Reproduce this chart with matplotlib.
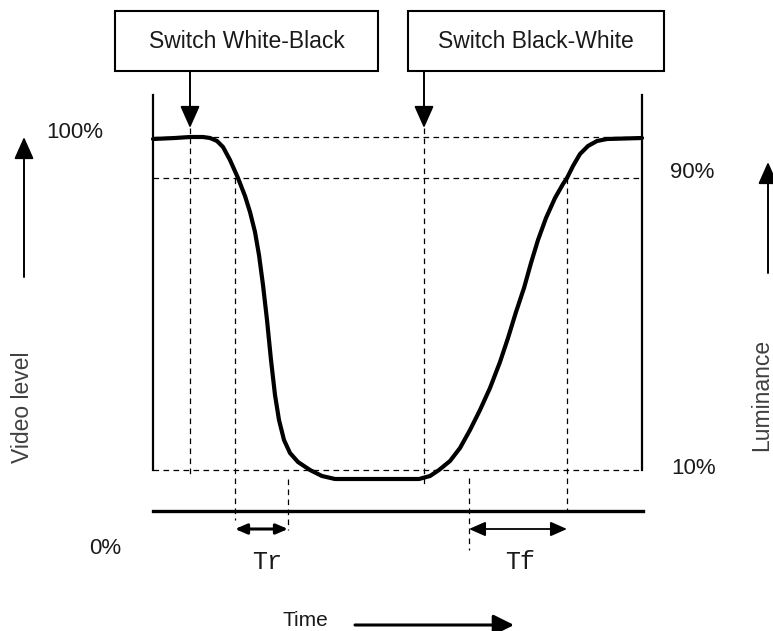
import matplotlib
matplotlib.use("Agg")
import matplotlib.pyplot as plt
from matplotlib.patches import Rectangle

# ---- data (diagram units: x = time, y = level position) ----
curve_x = [153, 175, 190, 203, 210, 217, 223, 230, 238, 245, 250, 255, 259, 263, 267,
           271, 275, 279, 284, 290, 298, 310, 322, 335,
           419, 430, 439, 450, 460, 470, 480, 490, 500, 508, 516, 524, 531, 538, 546,
           555, 563, 567, 573, 580, 588, 597, 607, 642]
curve_y = [139, 138, 137, 137, 138, 141, 147, 160, 178, 196, 212, 232, 255, 285, 320,
           360, 395, 420, 440, 453, 462, 470, 476, 479,
           479, 476, 470, 461, 448, 430, 410, 388, 362, 338, 312, 288, 263, 240, 218,
           198, 184, 178, 166, 154, 146, 141, 139, 138]

level_labels = ["100%", "90%", "10%", "0%"]
level_y = [137, 178, 470, 511]

switch_labels = ["Switch White-Black", "Switch Black-White"]
switch_x = [190, 424]
box_left = [115, 408]
box_right = [378, 664]

frame_left, frame_right, frame_top = 153, 642, 95
t90_fall, t10_fall = 235, 288     # Tr markers
t10_rise, t90_rise = 469, 567     # Tf markers

fig = plt.figure(figsize=(7.73, 6.31), dpi=100)
ax = fig.add_axes([0, 0, 1, 1])
ax.set_xlim(0, 773)
ax.set_ylim(631, 0)
ax.axis("off")

sans = "Liberation Sans"
mono = "Liberation Mono"
dash = dict(color="black", lw=0.9, dashes=(4.5, 3.5))

# boxes with labels
for lab, x0, x1 in zip(switch_labels, box_left, box_right):
    ax.add_patch(Rectangle((x0, 11), x1 - x0, 60, fill=False, lw=1.5, ec="black"))
    ax.text((x0 + x1) / 2, 42, lab, ha="center", va="center", fontsize=16.5,
            family=sans, color="#1a1a1a")

# arrows from boxes
arr = dict(arrowstyle="-|>,head_length=0.45,head_width=0.2", lw=1.4, color="black",
           shrinkA=0, shrinkB=0, mutation_scale=30)
for sx in switch_x:
    ax.annotate("", xy=(sx, 128), xytext=(sx, 71), arrowprops=arr)

# frame
ax.plot([frame_left, frame_left], [frame_top, level_y[2]], color="black", lw=1.6)
ax.plot([frame_right, frame_right], [frame_top, level_y[2]], color="black", lw=1.6)
ax.plot([frame_left, frame_right + 1], [level_y[3], level_y[3]], color="black", lw=2.4)

# horizontal dashed levels
for yv in level_y[:3]:
    ax.plot([frame_left, frame_right], [yv, yv], **dash)

# vertical dashed markers
ax.plot([switch_x[0], switch_x[0]], [128, 476], **dash)
ax.plot([switch_x[1], switch_x[1]], [128, 487], **dash)
ax.plot([t90_fall, t90_fall], [level_y[1], 520], **dash)
ax.plot([t10_fall, t10_fall], [479, 530], **dash)
ax.plot([t10_rise, t10_rise], [478, 550], **dash)
ax.plot([t90_rise, t90_rise], [level_y[1], level_y[3]], **dash)

# response curve
ax.plot(curve_x, curve_y, color="black", lw=3.0, solid_joinstyle="round",
        solid_capstyle="round")

# Tr / Tf arrows
ax.annotate("", xy=(t90_fall, 529), xytext=(t10_fall, 529),
            arrowprops=dict(arrowstyle="<|-|>,head_length=0.35,head_width=0.15",
                            lw=2.2, color="black", shrinkA=0, shrinkB=0,
                            mutation_scale=20))
ax.annotate("", xy=(t10_rise, 529), xytext=(t90_rise, 529),
            arrowprops=dict(arrowstyle="<|-|>,head_length=0.5,head_width=0.22",
                            lw=1.3, color="black", shrinkA=0, shrinkB=0,
                            mutation_scale=20))
ax.text((t90_fall + t10_fall) / 2 + 6, 562, "Tr", ha="center", va="center",
        fontsize=18, family=mono, color="#1a1a1a")
ax.text((t10_rise + t90_rise) / 2 + 2, 562, "Tf", ha="center", va="center",
        fontsize=18, family=mono, color="#1a1a1a")

# level labels
ax.text(75, 133, level_labels[0], ha="center", va="center", fontsize=16, family=sans, color="#1a1a1a")
ax.text(692, 172, level_labels[1], ha="center", va="center", fontsize=16, family=sans, color="#1a1a1a")
ax.text(694, 468, level_labels[2], ha="center", va="center", fontsize=16, family=sans, color="#1a1a1a")
ax.text(105, 548, level_labels[3], ha="center", va="center", fontsize=16, family=sans, color="#1a1a1a")

# side axis titles with arrows
ax.annotate("", xy=(24, 137), xytext=(24, 277), arrowprops=arr)
ax.text(23, 407, "Video level", rotation=90, ha="center", va="center", fontsize=16.5,
        family=sans, color="#404040")
ax.annotate("", xy=(768, 162), xytext=(768, 273), arrowprops=arr)
ax.text(762, 395, "Luminance", rotation=90, ha="center", va="center", fontsize=16.5,
        family=sans, color="#404040")

# time axis label
ax.text(305, 620, "Time", ha="center", va="center", fontsize=15, family=sans, color="#1a1a1a")
ax.annotate("", xy=(514, 625), xytext=(355, 625),
            arrowprops=dict(arrowstyle="-|>,head_length=0.5,head_width=0.25", lw=2.2,
                            color="black", shrinkA=0, shrinkB=0, mutation_scale=25))

fig.savefig("out.png", dpi=100)
